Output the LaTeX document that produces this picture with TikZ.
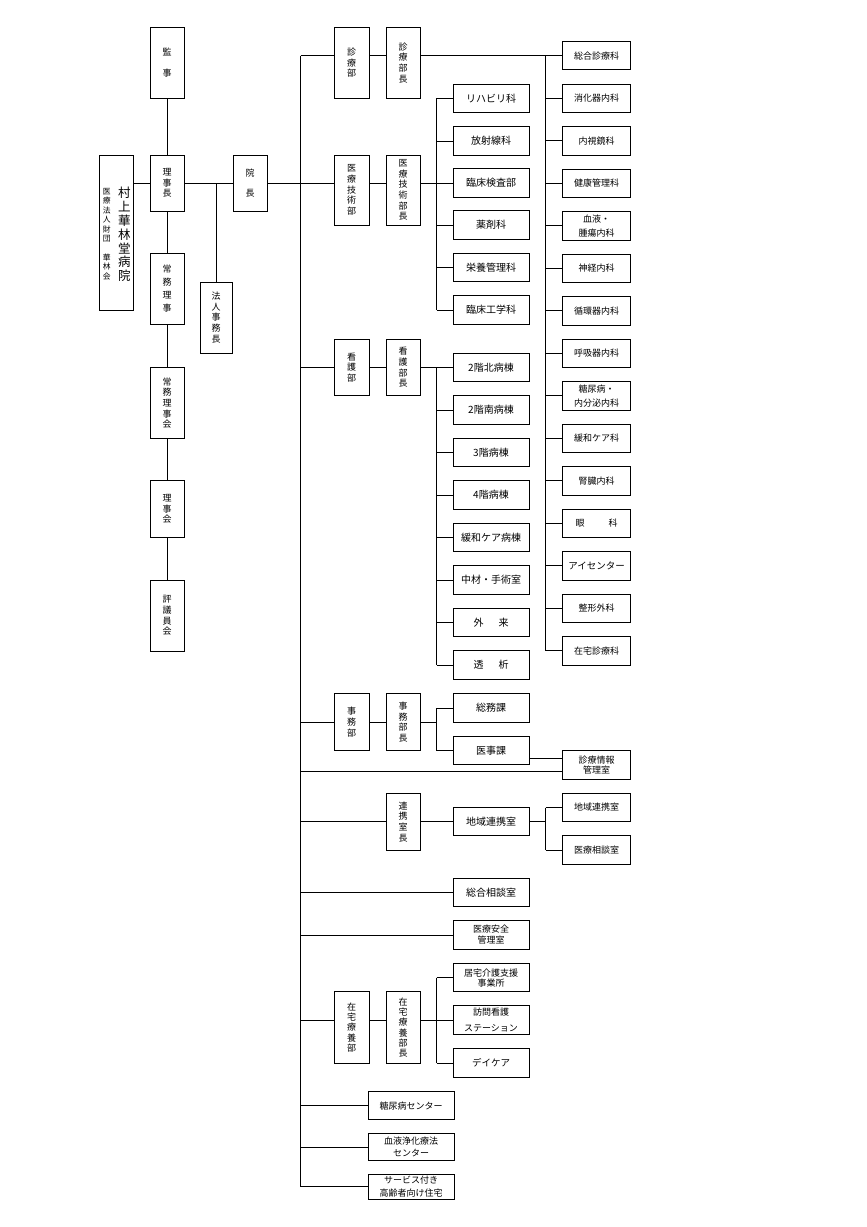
\documentclass[tikz,border=0pt]{standalone}
\usepackage{fontspec}
\setmainfont{Noto Sans CJK JP}
\begin{document}
\begin{tikzpicture}[x=1pt,y=-1pt,
  bx/.style={draw, line width=1pt, inner sep=0pt, align=center},
  vb/.style={bx, font=\fontsize{9}{10.7}\selectfont, minimum width=34pt},
  va/.style={vb, minimum width=35pt},
  cb/.style={bx, font=\fontsize{10}{11.5}\selectfont, minimum width=76pt, minimum height=28.5pt},
  db/.style={bx, font=\fontsize{9}{11}\selectfont, minimum width=68pt, minimum height=28.5pt},
  eb/.style={bx, font=\fontsize{9}{12.3}\selectfont, minimum width=86pt},
  ln/.style={line width=0.9pt}]
\fill[white] (0,0) rectangle (867,1227);
\useasboundingbox (0,0) rectangle (867,1227);

% left column
\node[vb, minimum height=71pt] (kanji) at (167,62.7) {監\\[11pt]事};
\node[vb, minimum height=56pt] (richo) at (167,183) {理\\事\\長};
\node[vb, minimum height=71pt, font=\fontsize{9}{13}\selectfont] (jomu) at (167,288.5) {常\\務\\理\\事};
\node[vb, minimum height=71pt] (jomukai) at (167,403) {常\\務\\理\\事\\会};
\node[vb, minimum height=57pt] (rijikai) at (167,509) {理\\事\\会};
\node[vb, minimum height=71pt] (hyogi) at (167,615.5) {評\\議\\員\\会};
\node[vb, minimum height=155pt] (hosp) at (116,232.5) {};
\node[font=\fontsize{12.5}{13.8}\selectfont, align=center, inner sep=0pt] (hospA) at (124.3,234.5) {村\\上\\華\\林\\堂\\病\\院};
\node[font=\fontsize{7.8}{9.4}\selectfont, align=center, inner sep=0pt] (hospB) at (106.7,234) {医\\療\\法\\人\\財\\団\\[9.4pt]華\\林\\会};
\node[vb, minimum height=56pt] (incho) at (250,183) {院\\[10pt]長};
\node[vb, minimum width=32pt, minimum height=71pt] (houjin) at (216,317.5) {法\\人\\事\\務\\長};

% column A
\node[va, minimum height=71pt] (shinbu) at (351.5,62.7) {診\\療\\部};
\node[va, minimum height=70pt] (gibu) at (351.5,190) {医\\療\\技\\術\\部};
\node[va, minimum height=56pt] (kanbu) at (351.5,367.5) {看\\護\\部};
\node[va, minimum height=57pt] (jimbu) at (351.5,722) {事\\務\\部};
\node[va, minimum height=71.6pt, font=\fontsize{9}{10.4}\selectfont] (zaibu) at (351.5,1027.5) {在\\宅\\療\\養\\部};

% column B
\node[vb, minimum height=71pt] (shinbucho) at (403,62.7) {診\\療\\部\\長};
\node[vb, minimum height=70pt] (gibucho) at (403,190) {医\\療\\技\\術\\部\\長};
\node[vb, minimum height=56pt] (kanbucho) at (403,367.5) {看\\護\\部\\長};
\node[vb, minimum height=57pt] (jimbucho) at (403,722) {事\\務\\部\\長};
\node[vb, minimum height=57pt] (renkeicho) at (403,821.7) {連\\携\\室\\長};
\node[vb, minimum height=71.6pt, font=\fontsize{9}{10.3}\selectfont] (zaibucho) at (403,1027.5) {在\\宅\\療\\養\\部\\長};

% column C
\node[cb] (c1) at (491,98.3) {リハビリ科};
\node[cb] (c2) at (491,141) {放射線科};
\node[cb] (c3) at (491,183) {臨床検査部};
\node[cb] (c4) at (491,225) {薬剤科};
\node[cb] (c5) at (491,267.5) {栄養管理科};
\node[cb] (c6) at (491,310) {臨床工学科};
\node[cb] (n1) at (491,367.5) {2階北病棟};
\node[cb] (n2) at (491,410) {2階南病棟};
\node[cb] (n3) at (491,452.5) {3階病棟};
\node[cb] (n4) at (491,495) {4階病棟};
\node[cb] (n5) at (491,537.5) {緩和ケア病棟};
\node[cb] (n6) at (491,580) {中材・手術室};
\node[cb] (n7) at (491,622.5) {外\hspace{15pt}来};
\node[cb] (n8) at (491,665) {透\hspace{15pt}析};
\node[cb] (somu) at (491,708) {総務課};
\node[cb] (iji) at (491,750.5) {医事課};
\node[cb] (chiiki) at (491,821.7) {地域連携室};
\node[cb] (sogo) at (491,892.5) {総合相談室};
\node[cb, font=\fontsize{9}{11}\selectfont] (anzen) at (491,935) {医療安全\\管理室};
\node[cb, font=\fontsize{9}{10}\selectfont] (kyotaku) at (491,977.7) {居宅介護支援\\事業所};
\node[cb, font=\fontsize{9}{15.5}\selectfont] (houmon) at (491,1020) {訪問看護\\ステーション};
\node[cb, font=\fontsize{9.5}{11}\selectfont] (daycare) at (491,1063) {デイケア};

% column D
\node[db] (d1) at (596.7,55.7) {総合診療科};
\node[db] (d2) at (596.7,98.3) {消化器内科};
\node[db] (d3) at (596.7,140.8) {内視鏡科};
\node[db] (d4) at (596.7,183.3) {健康管理科};
\node[db, font=\fontsize{9}{14}\selectfont] (d5) at (596.7,225.8) {血液・\\腫瘍内科};
\node[db] (d6) at (596.7,268.3) {神経内科};
\node[db] (d7) at (596.7,310.8) {循環器内科};
\node[db] (d8) at (596.7,353.3) {呼吸器内科};
\node[db, font=\fontsize{9}{13.7}\selectfont] (d9) at (596.7,395.8) {糖尿病・\\内分泌内科};
\node[db] (d10) at (596.7,438.3) {緩和ケア科};
\node[db] (d11) at (596.7,480.8) {腎臓内科};
\node[db] (d12) at (596.7,523.3) {眼\hspace{24pt}科};
\node[db, font=\fontsize{9.5}{11}\selectfont] (d13) at (596.7,565.8) {アイセンター};
\node[db] (d14) at (596.7,608.3) {整形外科};
\node[db] (d15) at (596.7,650.8) {在宅診療科};
\node[db, font=\fontsize{9}{10.5}\selectfont] (jyoho) at (596.7,765) {診療情報\\管理室};
\node[db] (chiiki2) at (596.7,807.5) {地域連携室};
\node[db] (soudan) at (596.7,850) {医療相談室};

% column E
\node[eb, minimum height=28.3pt] (tonyo) at (411,1105.8) {糖尿病センター};
\node[eb, minimum height=27.4pt] (ketsu) at (411,1147) {血液浄化療法\\センター};
\node[eb, minimum height=24.7pt] (serv) at (411,1186.7) {サービス付き\\高齢者向け住宅};

% coordinates
\coordinate (ttop) at (300.7,55.7);
\coordinate (tbot) at (300.7,1186.7);
\coordinate (cv) at (436.7,0);
\coordinate (rv) at (545.7,0);
\coordinate (m1) at (0,758.3);
\coordinate (m2) at (0,771);

% left connectors
\draw[ln] (kanji.south) -- (richo.north);
\draw[ln] (richo.south) -- (jomu.north);
\draw[ln] (jomu.south) -- (jomukai.north);
\draw[ln] (jomukai.south) -- (rijikai.north);
\draw[ln] (rijikai.south) -- (hyogi.north);
\draw[ln] (richo.west) -- (richo.west -| hosp.east);
\draw[ln] (richo.east) -- (incho.west);
\draw[ln] (houjin.north |- richo.east) -- (houjin.north);

% trunk
\draw[ln] (ttop) -- (tbot);
\draw[ln] (ttop) -- (ttop -| shinbu.west);
\draw[ln] (shinbu.east |- ttop) -- (shinbucho.west |- ttop);
\draw[ln] (shinbucho.east |- ttop) -- (d1.west);

% gijutsu
\draw[ln] (incho.east) -- (incho.east -| gibu.west);
\draw[ln] (gibu.east |- incho.east) -- (gibucho.west |- incho.east);
\draw[ln] (gibucho.east |- incho.east) -- (c3.west);
\draw[ln] (cv |- c1.west) -- (cv |- c6.west);
\foreach \i in {1,2,4,5,6} \draw[ln] (cv |- c\i.west) -- (c\i.west);

% right column
\draw[ln] (rv |- d1.west) -- (rv |- d15.west);
\foreach \i in {2,...,15} \draw[ln] (rv |- d\i.west) -- (d\i.west);

% kango
\draw[ln] (tbot |- kanbu.west) -- (kanbu.west);
\draw[ln] (kanbu.east) -- (kanbucho.west);
\draw[ln] (kanbucho.east) -- (n1.west);
\draw[ln] (cv |- n1.west) -- (cv |- n8.west);
\foreach \i in {2,...,8} \draw[ln] (cv |- n\i.west) -- (n\i.west);

% jimu
\draw[ln] (tbot |- jimbu.west) -- (jimbu.west);
\draw[ln] (jimbu.east) -- (jimbucho.west);
\draw[ln] (jimbucho.east) -- (cv |- jimbucho.east);
\draw[ln] (cv |- somu.west) -- (cv |- iji.west);
\draw[ln] (cv |- somu.west) -- (somu.west);
\draw[ln] (cv |- iji.west) -- (iji.west);
\draw[ln] (iji.east |- m1) -- (jyoho.west |- m1);
\draw[ln] (tbot |- m2) -- (jyoho.west |- m2);

% renkei
\draw[ln] (tbot |- renkeicho.west) -- (renkeicho.west);
\draw[ln] (renkeicho.east) -- (chiiki.west);
\draw[ln] (chiiki.east) -- (rv |- chiiki.east);
\draw[ln] (rv |- chiiki2.west) -- (rv |- soudan.west);
\draw[ln] (rv |- chiiki2.west) -- (chiiki2.west);
\draw[ln] (rv |- soudan.west) -- (soudan.west);

% others
\draw[ln] (tbot |- sogo.west) -- (sogo.west);
\draw[ln] (tbot |- anzen.west) -- (anzen.west);

% zaitaku
\draw[ln] (tbot |- houmon.west) -- (houmon.west -| zaibu.west);
\draw[ln] (zaibu.east |- houmon.west) -- (zaibucho.west |- houmon.west);
\draw[ln] (zaibucho.east |- houmon.west) -- (houmon.west);
\draw[ln] (cv |- kyotaku.west) -- (cv |- daycare.west);
\draw[ln] (cv |- kyotaku.west) -- (kyotaku.west);
\draw[ln] (cv |- daycare.west) -- (daycare.west);

% centers
\draw[ln] (tbot |- tonyo.west) -- (tonyo.west);
\draw[ln] (tbot |- ketsu.west) -- (ketsu.west);
\draw[ln] (tbot) -- (serv.west);
\end{tikzpicture}
\end{document}
